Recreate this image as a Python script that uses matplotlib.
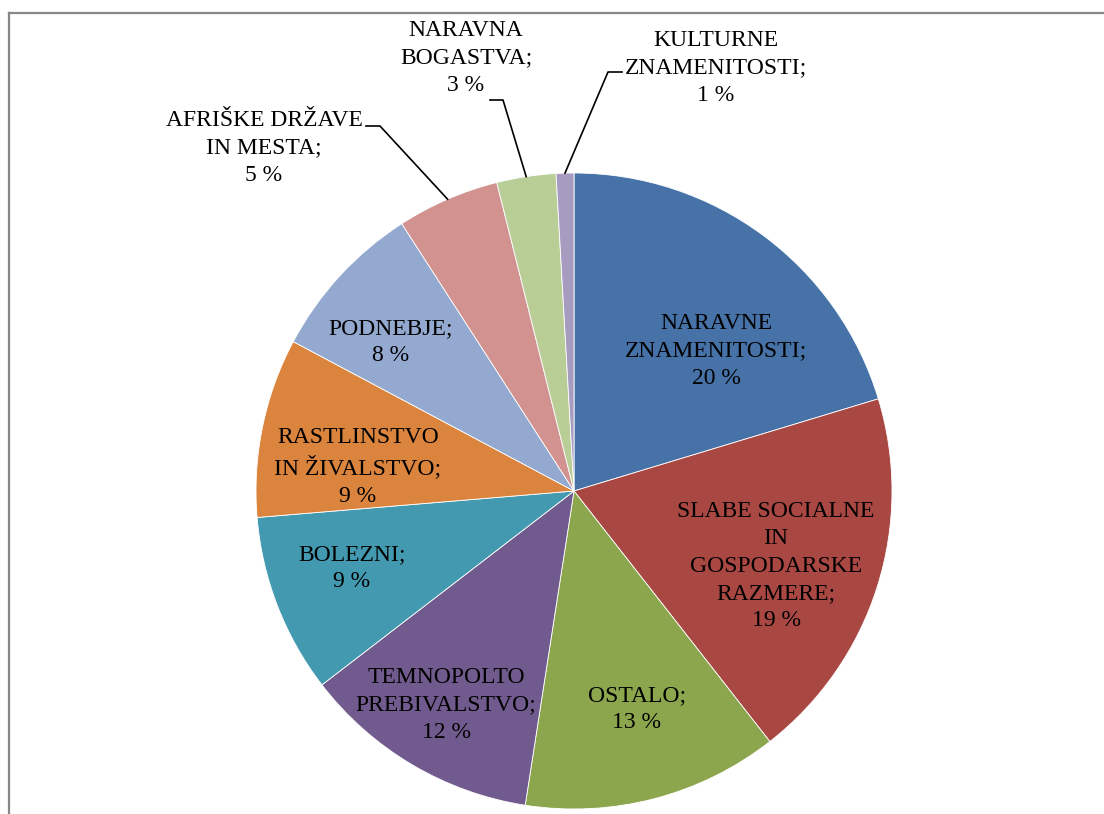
import matplotlib.pyplot as plt
import numpy as np
from matplotlib.lines import Line2D

# deleži (ocenjeni iz slike) in prikazane vrednosti
kategorije = [
    'NARAVNE\nZNAMENITOSTI;',
    'SLABE SOCIALNE\nIN\nGOSPODARSKE\nRAZMERE;',
    'OSTALO;',
    'TEMNOPOLTO\nPREBIVALSTVO;',
    'BOLEZNI;',
    'RASTLINSTVO\nIN ŽIVALSTVO;',
    'PODNEBJE;',
    'AFRIŠKE DRŽAVE\nIN MESTA;',
    'NARAVNA\nBOGASTVA;',
    'KULTURNE\nZNAMENITOSTI;',
]
delezi = [20.3, 19.1, 13.0, 12.1, 9.1, 9.1, 8.1, 5.2, 3.0, 0.9]
barve = ['#4672A7', '#A94743', '#8CA64E', '#715A8E', '#4299B0',
         '#DA843E', '#94A9CF', '#D19290', '#B9CD96', '#A79BC0']

# postavitev oznak (v pikslih slike, y od zgoraj) in pregibi zunanjih črt
oznake_xy = [(716, 351), (776, 566), (637, 709), (446, 705), (352, 568),
             (358, 467), (391, 342), (264, 148), (466, 58), (716, 68)]
pregib = {7: [(366, 126), (380, 126)], 8: [(490, 100), (503, 100)],
          9: [(622, 72), (608, 72)]}

W, H = 1104, 814
CX, CY, R = 574, H - 491, 318

fig = plt.figure(figsize=(W / 100, H / 100), dpi=100)
ax = fig.add_axes([0, 0, 1, 1])

wedges, _ = ax.pie(delezi, colors=barve, startangle=90, counterclock=False,
                   center=(CX, CY), radius=R, frame=True,
                   wedgeprops={'edgecolor': 'white', 'linewidth': 0.6})
ax.set_xlim(0, W)
ax.set_ylim(0, H)
ax.set_aspect('equal')
ax.axis('off')

pisava = {'family': 'Liberation Serif', 'size': 17, 'color': 'black'}
for i, (kat, d) in enumerate(zip(kategorije, delezi)):
    x, y = oznake_xy[i]
    ax.text(x, H - y, f'{kat}\n{round(d)} %', ha='center', va='center',
            linespacing=1.4, **pisava)
    if i in pregib:
        w = wedges[i]
        kot = np.deg2rad((w.theta1 + w.theta2) / 2)
        ex = CX + R * np.cos(kot)
        ey = CY + R * np.sin(kot)
        xs = [p[0] for p in pregib[i]] + [ex]
        ys = [H - p[1] for p in pregib[i]] + [ey]
        ax.plot(xs, ys, color='black', lw=1.2)

# okvir grafikona
fig.add_artist(Line2D([9 / W, 1], [1 - 13 / H, 1 - 13 / H],
                      color='#878787', lw=1.6, transform=fig.transFigure))
fig.add_artist(Line2D([9 / W, 9 / W], [0, 1 - 13 / H],
                      color='#878787', lw=1.6, transform=fig.transFigure))

fig.savefig('out.png', dpi=100)
